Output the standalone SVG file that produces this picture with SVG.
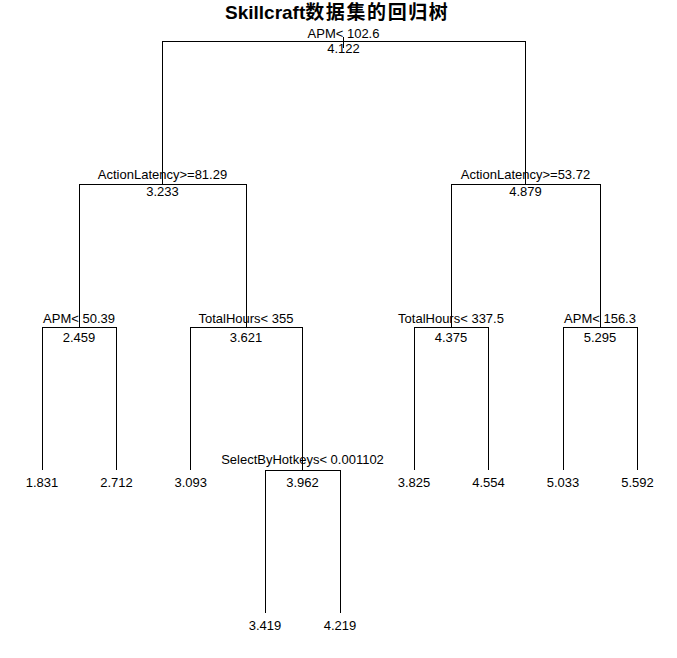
<svg xmlns="http://www.w3.org/2000/svg" width="677" height="658" viewBox="0 0 677 658">
<style>
.t{font-family:"Liberation Sans",Arial,sans-serif;font-size:13px;fill:#000;text-anchor:middle}
.title{font-family:"Liberation Sans","Noto Sans CJK SC",sans-serif;font-size:19px;font-weight:bold;fill:#000}
.cjk{font-family:"Noto Sans CJK SC",sans-serif;letter-spacing:1.6px}
#connectors line{stroke:#000;stroke-width:1;shape-rendering:crispEdges}
</style>
<rect width="677" height="658" fill="#fff"/>
<text class="title" x="225" y="19">Skillcraft<tspan class="cjk">数据集的回归树</tspan></text>
<g id="connectors">
<line x1="343.5" y1="37" x2="343.5" y2="48"/>
<line x1="162.5" y1="41" x2="525.5" y2="41"/>
<line x1="162.5" y1="41" x2="162.5" y2="184"/>
<line x1="525.5" y1="41" x2="525.5" y2="184"/>
<line x1="79" y1="184" x2="246" y2="184"/>
<line x1="79" y1="184" x2="79" y2="327"/>
<line x1="246" y1="184" x2="246" y2="327"/>
<line x1="451" y1="184" x2="600" y2="184"/>
<line x1="451" y1="184" x2="451" y2="327"/>
<line x1="600" y1="184" x2="600" y2="327"/>
<line x1="42" y1="327" x2="116.5" y2="327"/>
<line x1="42" y1="327" x2="42" y2="470"/>
<line x1="116.5" y1="327" x2="116.5" y2="470"/>
<line x1="190.8" y1="327" x2="302.5" y2="327"/>
<line x1="190.8" y1="327" x2="190.8" y2="470"/>
<line x1="302.5" y1="327" x2="302.5" y2="470"/>
<line x1="265" y1="470" x2="340" y2="470"/>
<line x1="265" y1="470" x2="265" y2="613"/>
<line x1="340" y1="470" x2="340" y2="613"/>
<line x1="414" y1="327" x2="488.5" y2="327"/>
<line x1="414" y1="327" x2="414" y2="470"/>
<line x1="488.5" y1="327" x2="488.5" y2="470"/>
<line x1="563" y1="327" x2="637.5" y2="327"/>
<line x1="563" y1="327" x2="563" y2="470"/>
<line x1="637.5" y1="327" x2="637.5" y2="470"/>
</g>
<g id="n1"><text class="t" x="343.5" y="38">APM&lt; 102.6</text><text class="t" x="343.5" y="53">4.122</text></g>
<g id="n2"><text class="t" x="162.5" y="179">ActionLatency&gt;=81.29</text><text class="t" x="162.5" y="196">3.233</text></g>
<g id="n3"><text class="t" x="525.5" y="179">ActionLatency&gt;=53.72</text><text class="t" x="525.5" y="196">4.879</text></g>
<g id="n4"><text class="t" x="79" y="323">APM&lt; 50.39</text><text class="t" x="79" y="342">2.459</text></g>
<g id="n5"><text class="t" x="246" y="323">TotalHours&lt; 355</text><text class="t" x="246" y="342">3.621</text></g>
<g id="n6"><text class="t" x="451" y="323">TotalHours&lt; 337.5</text><text class="t" x="451" y="342">4.375</text></g>
<g id="n7"><text class="t" x="600" y="323">APM&lt; 156.3</text><text class="t" x="600" y="342">5.295</text></g>
<g id="n8"><text class="t" x="42" y="487">1.831</text></g>
<g id="n9"><text class="t" x="116.5" y="487">2.712</text></g>
<g id="n10"><text class="t" x="190.8" y="487">3.093</text></g>
<g id="n11"><text class="t" x="302.5" y="464">SelectByHotkeys&lt; 0.001102</text><text class="t" x="302.5" y="487">3.962</text></g>
<g id="n12"><text class="t" x="265" y="630">3.419</text></g>
<g id="n13"><text class="t" x="340" y="630">4.219</text></g>
<g id="n14"><text class="t" x="414" y="487">3.825</text></g>
<g id="n15"><text class="t" x="488.5" y="487">4.554</text></g>
<g id="n16"><text class="t" x="563" y="487">5.033</text></g>
<g id="n17"><text class="t" x="637.5" y="487">5.592</text></g>
</svg>
